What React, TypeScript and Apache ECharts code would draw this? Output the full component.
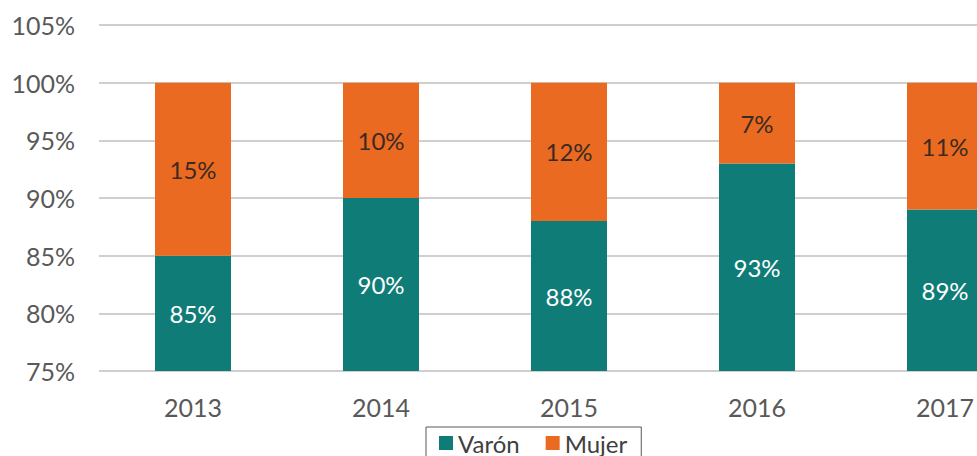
import React, { useEffect, useRef } from "react";
import * as echarts from "echarts";

const categories = ["2013", "2014", "2015", "2016", "2017"];
const varon = [85, 90, 88, 93, 89];
const mujer = [15, 10, 12, 7, 11];
const seriesNames = ["Varón", "Mujer"];

export default function App() {
  const ref = useRef<HTMLDivElement>(null);
  useEffect(() => {
    if (!ref.current) return;
    const chart = echarts.init(ref.current, null, { renderer: "svg" });
    const font = "Lato, 'DejaVu Sans', sans-serif";
    chart.setOption({
      animation: false,
      backgroundColor: "#ffffff",
      textStyle: { fontFamily: font },
      grid: { left: 99, top: 25, right: 0, height: 346, containLabel: false },
      legend: {
        data: seriesNames,
        left: 426,
        top: 427,
        itemWidth: 14,
        itemHeight: 14,
        itemGap: 26,
        padding: [4, 14, 2, 13],
        borderColor: "#595959",
        borderWidth: 1,
        icon: "rect",
        textStyle: { fontSize: 24, lineHeight: 24, color: "#404040", fontFamily: font },
      },
      xAxis: {
        type: "category",
        data: categories,
        axisLine: { show: false },
        axisTick: { show: false },
        axisLabel: { fontSize: 25, color: "#595959", margin: 23, fontFamily: font },
      },
      yAxis: {
        type: "value",
        min: 75,
        max: 105,
        interval: 5,
        axisLine: { show: false },
        axisTick: { show: false },
        axisLabel: {
          fontSize: 25,
          color: "#595959",
          margin: 24,
          fontFamily: font,
          formatter: (v: number) => `${v}%`,
        },
        splitLine: { lineStyle: { color: "#CFCFCF", width: 2 } },
      },
      series: [
        {
          name: seriesNames[0],
          type: "bar",
          stack: "total",
          data: varon,
          barWidth: 76,
          itemStyle: { color: "#0F7C77" },
          label: {
            show: true,
            position: "inside",
            formatter: "{c}%",
            color: "#ffffff",
            fontSize: 24,
            fontFamily: font,
          },
        },
        {
          name: seriesNames[1],
          type: "bar",
          stack: "total",
          data: mujer,
          barWidth: 76,
          itemStyle: { color: "#EA6A22" },
          label: {
            show: true,
            position: "inside",
            formatter: "{c}%",
            color: "#3a2a20",
            fontSize: 24,
            fontFamily: font,
          },
        },
      ],
    });
    return () => chart.dispose();
  }, []);
  return (
    <div
      ref={ref}
      style={{ position: "fixed", left: 0, top: 0, width: 1039, height: 456 }}
    />
  );
}
